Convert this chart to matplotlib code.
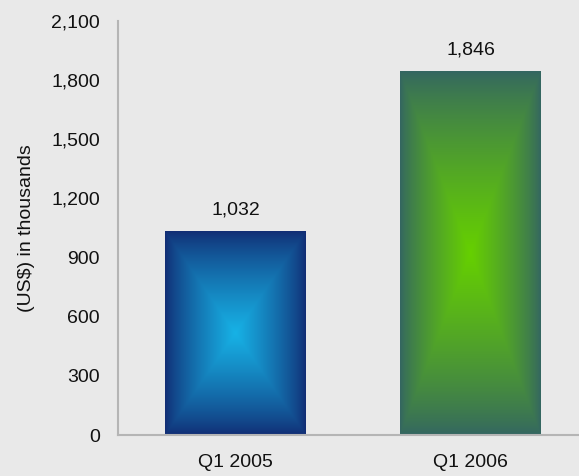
import matplotlib.pyplot as plt
import numpy as np
from matplotlib.colors import LinearSegmentedColormap

plt.rcParams['font.family'] = ['Liberation Sans', 'DejaVu Sans']

categories = ['Q1 2005', 'Q1 2006']
values = [1032, 1846]
# (edge colour, centre colour) for each bar's rectangular gradient
bar_colors = [('#112d74', '#17b2e6'), ('#346661', '#66d000')]

bg = '#e9e9e9'
fig = plt.figure(figsize=(5.79, 4.76), dpi=100, facecolor=bg)
ax = fig.add_axes([118 / 579, 41 / 476, 470 / 579, 414 / 476])
ax.set_facecolor(bg)

width = 0.6
n = 200
u = np.linspace(-1, 1, n)
uu, vv = np.meshgrid(u, u)
t = 1 - np.maximum(np.abs(uu), np.abs(vv))  # 0 at the edge, 1 in the middle
t = t ** 0.8

for i, (val, (edge, centre)) in enumerate(zip(values, bar_colors)):
    cmap = LinearSegmentedColormap.from_list(f'bar{i}', [edge, centre])
    ax.imshow(t, cmap=cmap, vmin=0, vmax=1, aspect='auto', interpolation='bilinear',
              extent=[i - width / 2, i + width / 2, 0, val], zorder=2)
    ax.text(i, val + 65, f'{val:,}', ha='center', va='bottom', fontsize=14, color='#111111')

ax.set_xlim(-0.5, 1.5)
ax.set_ylim(0, 2100)
ax.set_yticks(np.arange(0, 2101, 300))
ax.set_yticklabels([f'{v:,}' for v in range(0, 2101, 300)])
ax.set_xticks(range(len(categories)))
ax.set_xticklabels(categories)
ax.tick_params(length=0, labelsize=14, colors='#111111')
ax.tick_params(axis='y', pad=13)
ax.tick_params(axis='x', pad=14)

for side in ['top', 'right']:
    ax.spines[side].set_visible(False)
for side in ['left', 'bottom']:
    ax.spines[side].set_color('#b5b5b5')
    ax.spines[side].set_linewidth(1.5)

ax.set_ylabel('(US$) in thousands', fontsize=14, color='#111111', labelpad=12)

fig.savefig('out.png', dpi=100, facecolor=bg)
